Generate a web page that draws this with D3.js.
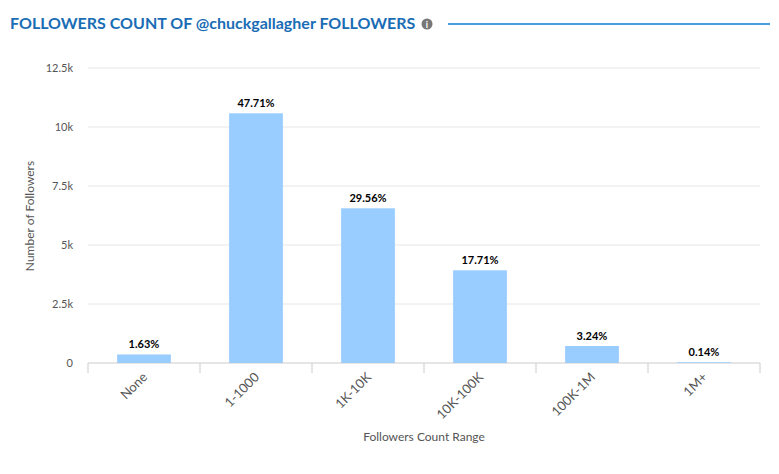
<!DOCTYPE html>
<html><head><meta charset="utf-8">
<script src="https://cdn.jsdelivr.net/npm/d3@7/dist/d3.min.js"></script>
<style>body{margin:0;background:#fff;font-family:Lato,"Open Sans",sans-serif}</style>
</head><body><svg id="c" width="779" height="474"></svg>
<script>
const categories=["None","1-1000","1K-10K","10K-100K","100K-1M","1M+"];
const values=[361,10580,6555,3928,719,31];
const labels=["1.63%","47.71%","29.56%","17.71%","3.24%","0.14%"];
const yTicks=[0,2500,5000,7500,10000,12500];
const yTickLabels=["0","2.5k","5k","7.5k","10k","12.5k"];
const svg=d3.select("#c");
const m={l:88,r:760,t:68,b:363};
const x=d3.scaleBand().domain(categories).range([m.l,m.r]).paddingInner(0.52).paddingOuter(0.26);
const y=d3.scaleLinear().domain([0,12500]).range([m.b,m.t]);
svg.append("text").attr("x",10).attr("y",29).attr("fill","#1a6db5").attr("font-size",16).attr("font-weight","bold").text("FOLLOWERS COUNT OF @chuckgallagher FOLLOWERS");
svg.append("circle").attr("cx",427).attr("cy",24).attr("r",5.5).attr("fill","#777");
svg.append("text").attr("x",427).attr("y",27.5).attr("text-anchor","middle").attr("fill","#fff").attr("font-size",9).attr("font-weight","bold").text("i");
svg.append("line").attr("x1",448).attr("x2",770).attr("y1",24).attr("y2",24).attr("stroke","#4a9fe0").attr("stroke-width",2);
const g=svg.append("g");
yTicks.forEach((t,i)=>{
 g.append("line").attr("x1",m.l).attr("x2",m.r).attr("y1",y(t)).attr("y2",y(t)).attr("stroke",i==0?"#ccc":"#e6e6e6");
 g.append("text").attr("x",73).attr("y",y(t)+4).attr("text-anchor","end").attr("font-size",11).attr("fill","#555").text(yTickLabels[i]);
});
const step=(m.r-m.l)/categories.length;
for(let i=0;i<=categories.length;i++){g.append("line").attr("x1",m.l+i*step).attr("x2",m.l+i*step).attr("y1",m.b).attr("y2",m.b+10).attr("stroke","#ccc");}
g.selectAll("rect").data(values).join("rect").attr("x",(d,i)=>x(categories[i])).attr("width",x.bandwidth()).attr("y",d=>y(d)).attr("height",d=>m.b-y(d)).attr("fill","#99ccff");
g.selectAll(".lab").data(values).join("text").attr("x",(d,i)=>x(categories[i])+x.bandwidth()/2).attr("y",d=>y(d)-6).attr("text-anchor","middle").attr("font-size",11).attr("font-weight","bold").attr("fill","#000").text((d,i)=>labels[i]);
categories.forEach(c=>{
 const cx=x(c)+x.bandwidth()/2+4;
 g.append("text").attr("transform",`translate(${cx},${378}) rotate(-45)`).attr("text-anchor","end").attr("font-size",13).attr("fill","#555").text(c);
});
svg.append("text").attr("x",424).attr("y",441).attr("text-anchor","middle").attr("font-size",12).attr("fill","#555").text("Followers Count Range");
svg.append("text").attr("transform","translate(34,216) rotate(-90)").attr("text-anchor","middle").attr("font-size",12).attr("fill","#555").text("Number of Followers");
</script></body></html>
